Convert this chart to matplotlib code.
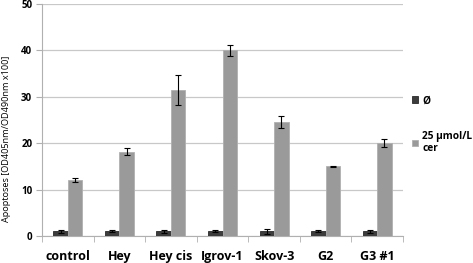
import matplotlib.pyplot as plt
import numpy as np

categories = ["control", "Hey", "Hey cis", "Igrov-1", "Skov-3", "G2", "G3 #1"]
untreated = [1.0, 1.0, 1.0, 1.0, 1.0, 1.0, 1.0]
untreated_err = [0.4, 0.2, 0.3, 0.2, 0.6, 0.2, 0.3]
ceramide = [12.0, 18.2, 31.5, 40.0, 24.6, 15.0, 20.0]
ceramide_err = [0.4, 0.7, 3.2, 1.2, 1.3, 0.1, 0.8]

plt.rcParams["font.family"] = ["Open Sans", "DejaVu Sans"]

fig = plt.figure(figsize=(4.73, 2.63), dpi=100)
ax = fig.add_axes([42 / 473, 1 - 236 / 263, 361 / 473, 232 / 263])

x = np.arange(len(categories))
w = 0.28
ax.bar(x - w / 2, untreated, w, color="#3c3c3c", edgecolor="#2a2a2a", lw=0.6,
       yerr=untreated_err, capsize=2, error_kw={"elinewidth": 0.8, "capthick": 0.8},
       label="Ø", zorder=3)
ax.bar(x + w / 2, ceramide, w, color="#9a9a9a", edgecolor="#b0b0b0", lw=0.6,
       yerr=ceramide_err, capsize=2, error_kw={"elinewidth": 0.8, "capthick": 0.8},
       label="25 µmol/L\ncer", zorder=3)

ax.set_xlim(-0.5, len(categories) - 0.5)
ax.set_ylim(0, 50)
ax.set_yticks(range(0, 51, 10))
ax.yaxis.grid(True, color="#c8c8c8", lw=0.9, zorder=0)
ax.set_axisbelow(True)

ax.set_xticks(x)
ax.set_xticklabels(categories, fontsize=9, fontweight="bold")
ax.set_xticks(np.arange(-0.5, len(categories), 1), minor=True)
ax.tick_params(axis="x", which="major", length=0, pad=10)
ax.tick_params(axis="x", which="minor", length=4, color="#b0b0b0")
ax.tick_params(axis="y", length=4, color="#b0b0b0", labelsize=7, pad=3)
for lab in ax.get_yticklabels():
    lab.set_fontweight("bold")

for side in ["top", "right"]:
    ax.spines[side].set_visible(False)
for side in ["left", "bottom"]:
    ax.spines[side].set_color("#b0b0b0")

ax.set_ylabel("Apoptoses [OD405nm/OD490nm x100]", fontsize=6.6)
ax.yaxis.set_label_coords(-0.085, 0.42)

ax.legend(loc="center left", bbox_to_anchor=(1.025, 0.48), frameon=False,
          handlelength=0.6, handleheight=0.6, handletextpad=0.4,
          labelspacing=2.4, borderaxespad=0, borderpad=0,
          prop={"weight": "bold", "size": 7.3})

fig.savefig("out.png", dpi=100)
